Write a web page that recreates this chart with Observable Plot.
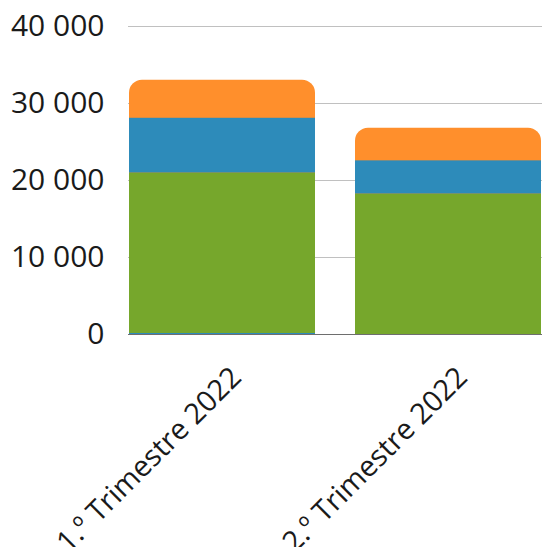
<!DOCTYPE html>
<html><head><meta charset="utf-8">
<script src="https://cdn.jsdelivr.net/npm/d3@7"></script>
<script src="https://cdn.jsdelivr.net/npm/@observablehq/plot@0.6"></script>
<style>body{margin:0;background:#fff;overflow:hidden}</style>
</head><body><div id="chart"></div>
<script>
const categories = ["1.º Trimestre 2022", "2.º Trimestre 2022"];
const seriesNames = ["Série 1", "Série 2", "Série 3", "Série 4"];
const series1 = [130, 0];
const series2 = [20850, 18250];
const series3 = [7100, 4300];
const series4 = [4950, 4250];
const yTicks = [0, 10000, 20000, 30000, 40000];
const colors = ["#2d8bba", "#76a72c", "#2d8bba", "#ff8f2c"];

const allSeries = [series1, series2, series3, series4];
const rows = [];
categories.forEach((c, i) => {
  allSeries.slice(0, 3).forEach((s, j) => rows.push({cat: c, series: seriesNames[j], value: s[i]}));
});
const totals = categories.map((c, i) => ({cat: c, total: allSeries.reduce((a, s) => a + s[i], 0)}));

const fmt = d => d3.format(",")(d).replace(/,/g, " ");

const chart = Plot.plot({
  width: 542,
  height: 547,
  marginLeft: 128,
  marginRight: 0,
  marginTop: 26,
  marginBottom: 213,
  style: {fontFamily: "Open Sans", color: "#1a1a1a", background: "#fff"},
  x: {domain: categories, paddingInner: 0.176, paddingOuter: 0, label: null},
  y: {domain: [0, 40000], label: null},
  color: {domain: seriesNames, range: colors},
  marks: [
    Plot.gridY(yTicks, {stroke: "#c0c0c0", strokeOpacity: 1}),
    Plot.ruleY([0], {stroke: "#6e6e6e"}),
    Plot.barY(totals, {x: "cat", y1: 0, y2: "total", fill: colors[3], rx: 13}),
    Plot.barY(rows, {x: "cat", y: "value", fill: "series", order: seriesNames}),
    Plot.axisY(yTicks, {tickSize: 0, tickPadding: 24, fontSize: 30, tickFormat: fmt, label: null}),
    Plot.axisX({tickSize: 0, tickRotate: -45, fontSize: 29, tickPadding: 38, dx: 14, label: null})
  ]
});
document.getElementById("chart").appendChild(chart);
</script></body></html>
